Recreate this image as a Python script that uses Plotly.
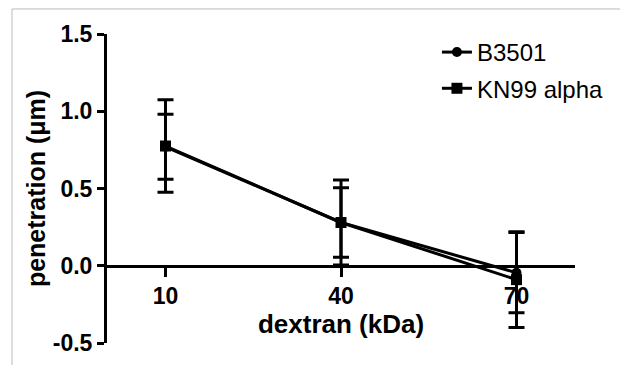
import plotly.graph_objects as go

dextran_kda = [10, 40, 70]
x_ticks = [10, 40, 70]
y_ticks = [-0.5, 0.0, 0.5, 1.0, 1.5]
y_tick_labels = ["-0.5", "0.0", "0.5", "1.0", "1.5"]

b3501_mean = [0.77, 0.28, -0.045]
b3501_err = [0.21, 0.225, 0.26]

kn99_mean = [0.775, 0.28, -0.09]
kn99_err = [0.30, 0.275, 0.31]

FONT = "Liberation Sans, Arial, sans-serif"

fig = go.Figure()
fig.add_trace(go.Scatter(
    x=dextran_kda, y=b3501_mean, name="B3501", mode="lines+markers",
    line=dict(color="black", width=3),
    marker=dict(symbol="circle", size=10, color="black"),
    error_y=dict(type="data", array=b3501_err, visible=True, color="black",
                 thickness=3, width=8),
    legendgroup="a",
))
fig.add_trace(go.Scatter(
    x=dextran_kda, y=kn99_mean, name="KN99 alpha", mode="lines+markers",
    line=dict(color="black", width=3),
    marker=dict(symbol="square", size=11, color="black"),
    error_y=dict(type="data", array=kn99_err, visible=True, color="black",
                 thickness=3, width=8),
    legendgroup="b",
))

fig.update_layout(
    width=628, height=365,
    margin=dict(l=99, r=61, t=26, b=30),
    paper_bgcolor="white", plot_bgcolor="white",
    font=dict(family=FONT, color="black"),
    showlegend=True,
    legend=dict(x=0.705, y=1.013, xanchor="left", yanchor="top",
                font=dict(size=24, family=FONT, color="black"),
                tracegroupgap=2, bgcolor="rgba(0,0,0,0)"),
    xaxis=dict(
        range=[0, 80], anchor="free", position=0.25,
        tickvals=x_ticks, ticktext=[str(v) for v in x_ticks],
        ticks="outside", ticklen=9, tickwidth=3, tickcolor="black",
        showline=True, linecolor="black", linewidth=3,
        showgrid=False, zeroline=False,
        tickfont=dict(size=23, family=FONT, weight="bold"),
        title=dict(text="dextran (kDa)", standoff=1,
                   font=dict(size=26, family=FONT, weight="bold")),
    ),
    yaxis=dict(
        range=[-0.5, 1.5],
        tickvals=y_ticks, ticktext=y_tick_labels,
        ticks="outside", ticklen=7, tickwidth=3, tickcolor="black",
        showline=True, linecolor="black", linewidth=3,
        showgrid=False, zeroline=False,
        tickfont=dict(size=23, family=FONT, weight="bold"),
        title=dict(text="penetration (μm)", standoff=1,
                   font=dict(size=25, family=FONT, weight="bold")),
    ),
    shapes=[dict(type="rect", xref="paper", yref="paper",
                 x0=-0.203, x1=1.107, y0=-0.2, y1=1.081,
                 line=dict(color="#bbbbbb", width=1), layer="below")],
)

fig.write_html("out.html")
